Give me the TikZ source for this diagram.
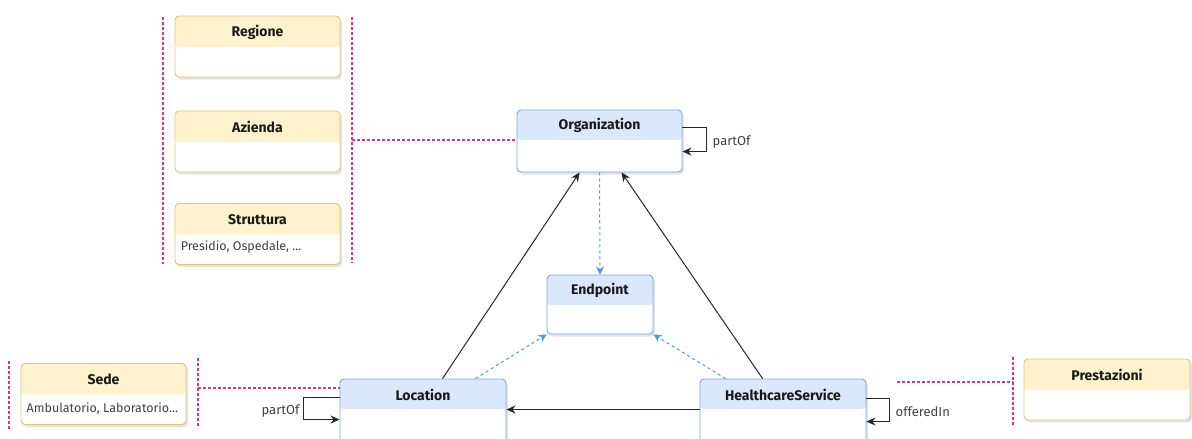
\documentclass[tikz,border=0pt]{standalone}
\usepackage{fontspec}
\setmainfont{Fira Sans}
\usetikzlibrary{calc,arrows.meta,shadows}
\definecolor{bluehead}{HTML}{DAE8FC}
\definecolor{blueline}{HTML}{7EA6E0}
\definecolor{yelhead}{HTML}{FFF2CC}
\definecolor{yelline}{HTML}{E3C46F}
\definecolor{pinkline}{HTML}{E0327F}
\definecolor{dashblue}{HTML}{3D9BFF}
\tikzset{
  umlbox/.style={draw, rounded corners=4pt, fill=white, line width=0.9pt,
    drop shadow={opacity=0.22, shadow xshift=2pt, shadow yshift=-2.5pt}},
  bluebox/.style={umlbox, draw=blueline,
    path picture={\fill[bluehead] (path picture bounding box.north west) rectangle ([yshift=-30pt]path picture bounding box.north east);}},
  yelbox/.style={umlbox, draw=yelline,
    path picture={\fill[yelhead] (path picture bounding box.north west) rectangle ([yshift=-31pt]path picture bounding box.north east);}},
  title/.style={font=\fontsize{14}{16}\selectfont\bfseries, text=black!90, inner sep=0pt},
  bodytxt/.style={font=\fontsize{12.5}{14}\selectfont, text=black!75, inner sep=0pt, anchor=west},
  lbl/.style={font=\fontsize{13}{15}\selectfont, text=black!75, inner sep=0pt},
  pinkdash/.style={draw=pinkline, line width=1.2pt, dash pattern=on 3pt off 2pt},
  bluedash/.style={draw=dashblue, line width=1pt, dash pattern=on 3pt off 3pt, -{Stealth[length=8pt,width=8pt]}},
  solidarr/.style={draw=black!85, line width=1pt, -{Stealth[length=9pt,width=8pt]}},
}
\begin{document}
\begin{tikzpicture}[x=1pt,y=-1pt]
\useasboundingbox (0,0) rectangle (1192,439);
\clip (0,0) rectangle (1192,439);

% yellow boxes
\node[yelbox, minimum width=165pt, minimum height=61pt] (reg) at (257.5,46.5) {};
\node[title] at ($(reg.north)+(0,16.5)$) {Regione};
\node[yelbox, minimum width=165pt, minimum height=61pt] (azi) at (257.5,141.5) {};
\node[title] at ($(azi.north)+(0,16.5)$) {Azienda};
\node[yelbox, minimum width=165pt, minimum height=61pt] (str) at (257.5,234) {};
\node[title] at ($(str.north)+(0,16.5)$) {Struttura};
\node[bodytxt] at ($(str.north west)+(6,44)$) {Presidio, Ospedale, ...};

\node[yelbox, minimum width=165pt, minimum height=61pt] (sede) at (103.5,394) {};
\node[title] at ($(sede.north)+(0,16.5)$) {Sede};
\node[bodytxt] at ($(sede.north west)+(6,46)$) {Ambulatorio, Laboratorio...};

\node[yelbox, minimum width=166pt, minimum height=61pt] (prest) at (1107,389.5) {};
\node[title] at ($(prest.north)+(0,16.5)$) {Prestazioni};

% blue boxes
\node[bluebox, minimum width=165pt, minimum height=62pt] (org) at (599.5,141) {};
\node[title] at ($(org.north)+(0,16)$) {Organization};
\node[bluebox, minimum width=106pt, minimum height=59pt] (endp) at (600,304.5) {};
\node[title] at ($(endp.north)+(0,16)$) {Endpoint};
\node[bluebox, minimum width=166pt, minimum height=92pt] (loc) at (423,425) {};
\node[title] at ($(loc.north)+(0,16)$) {Location};
\node[bluebox, minimum width=166pt, minimum height=92pt] (hs) at (783,425) {};
\node[title] at ($(hs.north)+(0,16)$) {HealthcareService};

% pink dashed groupings
\coordinate (gl1) at (163,17); \coordinate (gl2) at (163,264);
\coordinate (gr1) at (352,17); \coordinate (gr2) at (352,263);
\draw[pinkdash] (gl1) -- (gl2);
\draw[pinkdash] (gr1) -- (gr2);
\draw[pinkdash] (352,140) -- (org.west |- 0,140);
\coordinate (sl1) at (9,361); \coordinate (sl2) at (9,429);
\coordinate (sr1) at (198,358); \coordinate (sr2) at (198,428);
\draw[pinkdash] (sl1) -- (sl2);
\draw[pinkdash] (sr1) -- (sr2);
\draw[pinkdash] (198,388) -- (loc.west |- 0,388);
\coordinate (pl1) at (1013,357); \coordinate (pl2) at (1013,425);
\draw[pinkdash] (pl1) -- (pl2);
\coordinate (hsr) at (897,382);
\draw[pinkdash] (hsr) -- (1013,382);

% solid arrows
\draw[solidarr] ($(loc.north west)+(103,0)$) -- ($(org.south west)+(63,0)$);
\draw[solidarr] ($(hs.north west)+(63,0)$) -- ($(org.south west)+(105,0)$);
\draw[solidarr] ($(hs.north west)+(0,31)$) -- ($(loc.north east)+(0,31)$);

% self loops
\draw[solidarr] ($(org.north east)+(0,18)$) -- ++(24,0) |- ($(org.north east)+(0,42)$);
\node[lbl, anchor=west] at ($(org.north east)+(30,32)$) {partOf};
\draw[solidarr] ($(loc.north west)+(0,19)$) -- ++(-36,0) |- ($(loc.north west)+(0,41)$);
\node[lbl, anchor=east] at ($(loc.north west)+(-40,32)$) {partOf};
\draw[solidarr] ($(hs.north east)+(0,20)$) -- ++(23,0) |- ($(hs.north east)+(0,43)$);
\node[lbl, anchor=west] at ($(hs.north east)+(29,33)$) {offeredIn};

% blue dashed arrows
\draw[bluedash] (org.south) -- (endp.north);
\draw[bluedash] ($(loc.north west)+(136,0)$) -- (endp.south west);
\draw[bluedash] ($(hs.north west)+(26,0)$) -- (endp.south east);
\end{tikzpicture}
\end{document}
